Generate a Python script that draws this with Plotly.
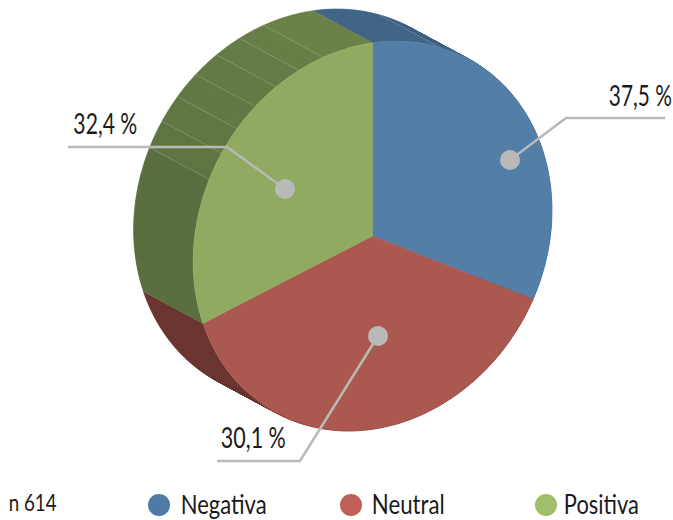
import json
import numpy as np
import plotly.graph_objects as go

categories = ["Negativa", "Neutral", "Positiva"]
values = [37.5, 30.1, 32.4]
sample_label = "n 614"

face_colors = ["#537EA7", "#AB5850", "#91AA62"]
side_colors = ["#426587", "#6B3531", "#5F7542"]
legend_colors = ["#4F7AA7", "#BE6058", "#A1BE6A"]
FONT = "Lato"
TEXT = "#1a1a1a"
GREY = "#B9BAB8"

# projection of the tilted disc into pixel space
CX, CY, RX, RY, TILT = 372.5, 236.0, 179.5, 195.0, 7.6
DX, DY = -59.5, -32.0
WARP_A, WARP_B = -15.6, -4.38


def to_t(theta):
    theta = np.asarray(theta, dtype=float)
    r = np.radians(theta)
    return -90 + theta + WARP_A * np.sin(r) + WARP_B * (1 - np.cos(r))


def rim(t, dx=0.0, dy=0.0):
    r = np.radians(t)
    return CX + dx + RX * np.cos(r), CY + dy + RY * np.sin(r - np.radians(TILT))


def poly(x, y, color):
    return go.Scatter(x=list(x), y=list(y), mode="lines", fill="toself", fillcolor=color,
                      line=dict(color=color, width=0.5),
                      hoverinfo="skip", showlegend=False)


def band(t0, t1, color):
    """Area swept by an arc along the extrusion: one consistently wound quad per step."""
    t = np.linspace(t0, t1, max(int(abs(t1 - t0)) * 2, 4))
    x0, y0 = rim(t)
    x1, y1 = rim(t, DX, DY)
    xs, ys = [], []
    for i in range(len(t) - 1):
        qx = [x0[i], x0[i + 1], x1[i + 1], x1[i]]
        qy = [y0[i], y0[i + 1], y1[i + 1], y1[i]]
        area = sum(qx[k] * qy[(k + 1) % 4] - qx[(k + 1) % 4] * qy[k] for k in range(4))
        if area < 0:
            qx, qy = qx[::-1], qy[::-1]
        xs += qx + [qx[0], None]
        ys += qy + [qy[0], None]
    return go.Scatter(x=xs, y=ys, mode="lines", fill="toself", fillcolor=color,
                      line=dict(color=color, width=0.4), hoverinfo="skip", showlegend=False)


def stripe(t, color, width=0.7):
    x0, y0 = rim(t)
    x1, y1 = rim(t, DX, DY)
    return go.Scatter(x=[float(x0), float(x1)], y=[float(y0), float(y1)], mode="lines",
                      line=dict(color=color, width=width), hoverinfo="skip", showlegend=False)


def mix(a, b, f):
    return "rgb(%d,%d,%d)" % tuple(round(p + (q - p) * f) for p, q in zip(a, b))


fracs = np.cumsum([0] + values) / sum(values) * 360
spans = [(float(to_t(fracs[i])), float(to_t(fracs[i + 1]))) for i in range(3)]

fig = go.Figure()

# extruded side: blue, red, then the shaded green segments
b0, b1 = spans[0]
fig.add_trace(band(b0 + 22, b1, "#3D5F80"))
fig.add_trace(band(b0, b0 + 22, side_colors[0]))
fig.add_trace(stripe(b0 + 22, "rgba(160,185,210,0.45)"))
fig.add_trace(band(*spans[1], side_colors[1]))

g0, g1 = spans[2]
stripes = np.linspace(g1 - 16, g0 + 43.5, 7)
edges = np.r_[g1, stripes, g0]
dark, light = (86, 105, 60), (108, 131, 73)
for i in range(len(edges) - 1):
    f = ((edges[i] + edges[i + 1]) / 2 - g0) / (g1 - g0)
    fig.add_trace(band(edges[i + 1], edges[i], mix(dark, light, f)))
for s in stripes:
    fig.add_trace(stripe(s, "rgba(190,205,160,0.3)"))

# front face
for (t0, t1), col in zip(spans, face_colors):
    t = np.linspace(t0, t1, 120)
    x, y = rim(t)
    fig.add_trace(poly(np.r_[CX, x, CX], np.r_[CY, y, CY], col))

# leader lines and dots
leaders = [
    ([665, 566, 510], [118, 118, 160]),
    ([217, 300, 378], [461, 461, 336]),
    ([68, 227, 285], [147, 147, 189]),
]
for lx, ly in leaders:
    fig.add_trace(go.Scatter(x=lx, y=ly, mode="lines", line=dict(color=GREY, width=2.5),
                             hoverinfo="skip", showlegend=False))
    fig.add_trace(go.Scatter(x=[lx[-1]], y=[ly[-1]], mode="markers",
                             marker=dict(color=GREY, size=20, line=dict(width=0)),
                             hoverinfo="skip", showlegend=False))

# value labels: centre position and the condensed width each text is fitted to
label_pos = [(640.5, 95), (253.5, 437), (105, 123)]
label_width = [63, 65, 64]
ann = []
fit = {}
for v, (x, y), w in zip(values, label_pos, label_width):
    s = f"{v:.1f} %".replace(".", ",")
    fit[s] = w
    ann.append(dict(x=x, y=y, xref="x", yref="y", text=s, showarrow=False,
                    xanchor="center", yanchor="middle",
                    font=dict(family=FONT, size=28, color=TEXT)))
fit[sample_label] = 48
ann.append(dict(x=32, y=501, xref="x", yref="y", text=sample_label, showarrow=False,
                xanchor="center", yanchor="middle", font=dict(family=FONT, size=24, color=TEXT)))

# legend row
legend_x = [159, 351, 546]
legend_text_x = [223, 408, 601.5]
legend_width = [86, 73, 75]
for cat, col, lx, tx, w in zip(categories, legend_colors, legend_x, legend_text_x, legend_width):
    fig.add_trace(go.Scatter(x=[lx], y=[505], mode="markers",
                             marker=dict(color=col, size=22, line=dict(width=0)),
                             hoverinfo="skip", showlegend=False))
    fit[cat] = w
    ann.append(dict(x=tx, y=503.5, xref="x", yref="y", text=cat, showarrow=False,
                    xanchor="center", yanchor="middle",
                    font=dict(family=FONT, size=27, color=TEXT)))

fig.update_layout(
    width=673, height=520, margin=dict(l=0, r=0, t=0, b=0),
    paper_bgcolor="white", plot_bgcolor="white", annotations=ann,
    xaxis=dict(range=[0, 673], visible=False, fixedrange=True),
    yaxis=dict(range=[520, 0], visible=False, fixedrange=True),
)
post = (
    "document.body.style.margin='0';document.documentElement.style.overflow='hidden';"
    "var fit=" + json.dumps(fit) + ";"
    "document.querySelectorAll('.annotation-text').forEach(function(e){"
    "var w=fit[e.textContent];if(w){var b=e.getBBox();var c=b.x+b.width/2;var s=w/b.width;"
    "e.setAttribute('transform','translate('+c+',0) scale('+s+',1) translate('+(-c)+',0)');}});"
)
fig.write_html("out.html", post_script=post, config={"displayModeBar": False})
